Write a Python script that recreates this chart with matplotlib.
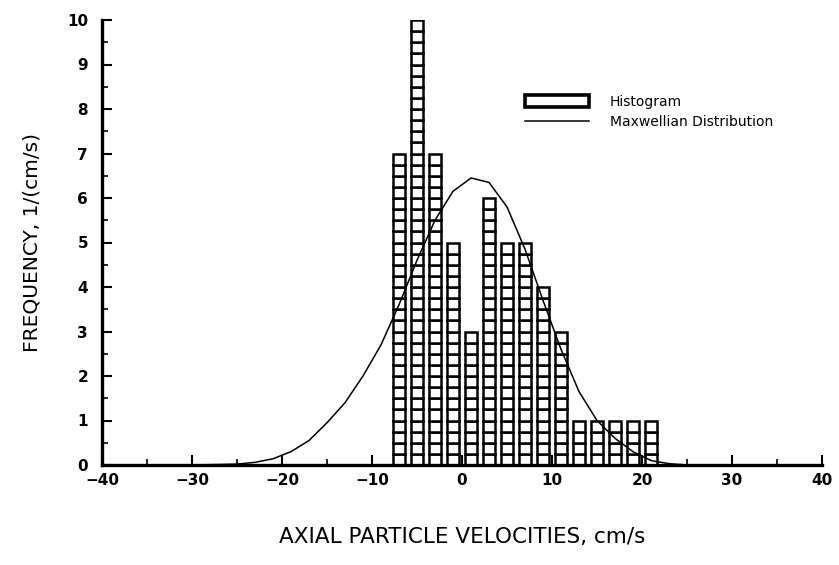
import matplotlib
matplotlib.use("Agg")
import matplotlib.pyplot as plt
from matplotlib.patches import Rectangle
from matplotlib.lines import Line2D

# histogram: bin centres (cm/s) and frequency, 1/(cm/s)
bin_centers = [-7, -5, -3, -1, 1, 3, 5, 7, 9, 11, 13, 15, 17, 19, 21]
bin_freq = [7, 10, 7, 5, 3, 6, 5, 5, 4, 3, 1, 1, 1, 1, 1]

# Maxwellian distribution curve
curve_v = [-40, -30, -25, -23, -21, -19, -17, -15, -13, -11, -9, -7, -5, -3,
           -1, 1, 3, 5, 7, 9, 11, 13, 15, 17, 19, 21, 23, 25, 40]
curve_f = [0.0, 0.0, 0.02, 0.06, 0.14, 0.3, 0.55, 0.95, 1.4, 2.0, 2.7, 3.6,
           4.6, 5.5, 6.15, 6.45, 6.35, 5.8, 4.85, 3.7, 2.6, 1.65, 1.0, 0.6, 0.3,
           0.1, 0.03, 0.0, 0.0]

BOX = 0.25      # each histogram bar is drawn as a ladder of small boxes
BAR_W = 1.3

fig = plt.figure(figsize=(8.39, 5.65), dpi=100)
ax = fig.add_axes([102 / 839, 1 - 465 / 565, 720 / 839, 445 / 565])

for xc, h in zip(bin_centers, bin_freq):
    n = int(round(h / BOX))
    ax.bar([xc] * n, [BOX] * n, bottom=[k * BOX for k in range(n)], width=BAR_W,
           facecolor="white", edgecolor="black", linewidth=1.8, zorder=2)

ax.plot(curve_v, curve_f, color="black", lw=1.1, zorder=3)

ax.set_xlim(-40, 40)
ax.set_ylim(0, 10)
ax.spines["top"].set_visible(False)
ax.spines["right"].set_visible(False)
ax.spines["left"].set_linewidth(2.4)
ax.spines["bottom"].set_linewidth(2.4)
ax.set_xticks(range(-40, 41, 10))
ax.set_xticks(range(-35, 40, 10), minor=True)
ax.set_yticks(range(0, 11))
ax.set_yticks([k + 0.5 for k in range(10)], minor=True)
ax.tick_params(which="major", direction="in", length=7, width=1.5, labelsize=11)
ax.tick_params(which="minor", direction="in", length=4, width=1.2)
ax.tick_params(axis="x", pad=6)
ax.tick_params(axis="y", pad=10)
for lbl in ax.get_xticklabels() + ax.get_yticklabels():
    lbl.set_fontweight("semibold")

ax.set_xlabel("AXIAL PARTICLE VELOCITIES, cm/s", fontsize=15.5, labelpad=28)
ax.set_ylabel("FREQUENCY, 1/(cm/s)", fontsize=14.5, labelpad=18)

handles = [Rectangle((0, 0), 1, 1, facecolor="white", edgecolor="black", linewidth=2.6),
           Line2D([], [], color="black", lw=1.1)]
ax.legend(handles, ["Histogram", "Maxwellian Distribution"], loc="upper left",
          bbox_to_anchor=(0.57, 0.86), frameon=False, fontsize=10,
          handlelength=4.6, handleheight=1.0, handletextpad=1.5, labelspacing=0.45)

fig.savefig("out.png", dpi=100)
